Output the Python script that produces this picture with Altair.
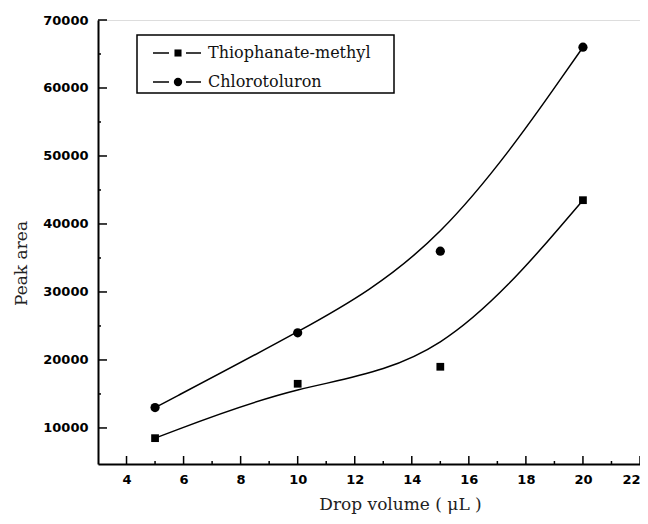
import altair as alt
import pandas as pd

# ---- data ----
drop_volume = [5, 10, 15, 20]
thiophanate = [8500, 16500, 19000, 43500]
chlorotoluron = [13000, 24000, 36000, 66000]
series_names = ["Thiophanate-methyl", "Chlorotoluron"]
x_major = [4, 6, 8, 10, 12, 14, 16, 18, 20, 22]
x_minor = [5, 7, 9, 11, 13, 15, 17, 19, 21]
y_major = [10000, 20000, 30000, 40000, 50000, 60000, 70000]
y_minor = [15000, 25000, 35000, 45000, 55000, 65000]

rows = []
for xv, a, b in zip(drop_volume, thiophanate, chlorotoluron):
    rows.append({"x": xv, "y": a, "series": series_names[0]})
    rows.append({"x": xv, "y": b, "series": series_names[1]})
df = pd.DataFrame(rows)

W, H = 542, 444
XDOM = [3, 22]
YDOM = [4700, 70000]
FONT = "DejaVu Serif"
TICKFONT = "DejaVu Sans"

xs = alt.Scale(domain=XDOM, nice=False, zero=False)
ys = alt.Scale(domain=YDOM, nice=False, zero=False)

x_enc = alt.X("x:Q", scale=xs, axis=alt.Axis(
    values=x_major, ticks=False, grid=False, labelFont=TICKFONT, labelFontWeight="bold",
    labelFontSize=13, labelPadding=9, labelColor="black", domainColor="black",
    domainWidth=2, title="Drop volume ( \u03bcL )", titleFont=FONT, titleFontSize=17,
    titleFontWeight="normal", titleColor="#222", titleX=302, titleY=32, titleAnchor="middle",
    titleBaseline="top", labelFlush=True))
y_enc = alt.Y("y:Q", scale=ys, axis=alt.Axis(
    values=y_major, ticks=False, grid=False, labelFont=TICKFONT, labelFontWeight="bold",
    labelFontSize=13, labelPadding=10, labelColor="black", domainColor="black",
    domainWidth=2, title="Peak area", titleFont=FONT, titleFontSize=17,
    titleFontWeight="normal", titleColor="#222", titleX=-68, titleY=243, titleAngle=-90,
    titleAlign="center", titleBaseline="bottom", format="d", labelFlush=False))

base = alt.Chart(df)

lines = base.mark_line(interpolate="basis", color="black", strokeWidth=1.5).encode(
    x=x_enc, y=y_enc, detail="series:N")

points = base.mark_point(filled=True, color="black", opacity=1).encode(
    x="x:Q", y="y:Q",
    shape=alt.Shape("series:N", scale=alt.Scale(domain=series_names, range=["square", "circle"]), legend=None),
    size=alt.Size("series:N", scale=alt.Scale(domain=series_names, range=[60, 85]), legend=None))

xmaj = alt.Chart(pd.DataFrame({"x": x_major})).mark_rule(color="black", strokeWidth=1.5).encode(
    x=alt.X("x:Q", scale=xs), y=alt.value(H), y2=alt.value(H - 8))
xmin = alt.Chart(pd.DataFrame({"x": x_minor})).mark_rule(color="black", strokeWidth=1.5).encode(
    x=alt.X("x:Q", scale=xs), y=alt.value(H), y2=alt.value(H - 3))
ymaj = alt.Chart(pd.DataFrame({"y": y_major})).mark_rule(color="black", strokeWidth=1.5).encode(
    y=alt.Y("y:Q", scale=ys), x=alt.value(0), x2=alt.value(9))
ymin = alt.Chart(pd.DataFrame({"y": y_minor})).mark_rule(color="black", strokeWidth=1.5).encode(
    y=alt.Y("y:Q", scale=ys), x=alt.value(0), x2=alt.value(3))

# ---- legend ----
box = alt.Chart(pd.DataFrame({"k": [0]})).mark_rect(fill="white", stroke="black", strokeWidth=1.5).encode(
    x=alt.value(39), x2=alt.value(296), y=alt.value(15), y2=alt.value(73))
leg_items = []
for i, name in enumerate(series_names):
    yy = 33 + i * 29
    d = alt.Chart(pd.DataFrame({"series": [name]}))
    leg_items.append(d.mark_rule(color="black", strokeWidth=1.5).encode(
        x=alt.value(55), x2=alt.value(71), y=alt.value(yy)))
    leg_items.append(d.mark_rule(color="black", strokeWidth=1.5).encode(
        x=alt.value(88), x2=alt.value(103), y=alt.value(yy)))
    leg_items.append(d.mark_point(filled=True, color="black", opacity=1,
                                  shape="square" if i == 0 else "circle",
                                  size=50 if i == 0 else 70).encode(x=alt.value(80), y=alt.value(yy)))
    leg_items.append(d.mark_text(align="left", baseline="middle", font=FONT, fontSize=16,
                                 color="#111").encode(x=alt.value(110), y=alt.value(yy), text="series:N"))

chart = alt.layer(lines, points, xmaj, xmin, ymaj, ymin, box, *leg_items).properties(
    width=W, height=H,
    autosize=alt.AutoSizeParams(type="none"),
    padding={"left": 90, "top": 12, "right": 0, "bottom": 52},
).configure_view(stroke=None).configure(background="white")

chart.save("out.html", embed_options={"renderer": "svg", "actions": False})
